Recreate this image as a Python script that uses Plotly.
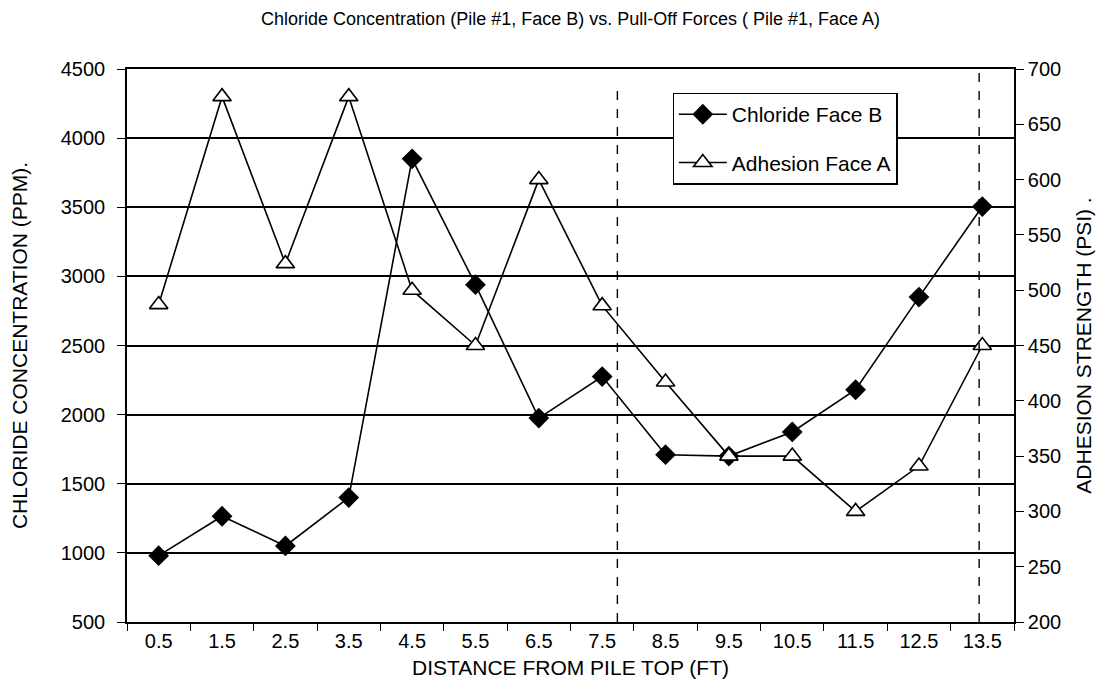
import plotly.graph_objects as go

# distance from pile top (ft), used as categories
distance = ["0.5", "1.5", "2.5", "3.5", "4.5", "5.5", "6.5",
            "7.5", "8.5", "9.5", "10.5", "11.5", "12.5", "13.5"]

# chloride concentration, Face B (ppm)
chloride_b = [980, 1265, 1050, 1400, 3850, 2940, 1975,
              2275, 1710, 1700, 1875, 2180, 2850, 3505]

# adhesion strength, Face A (psi)
adhesion_a = [487, 675, 524, 675, 500, 450, 600,
              486, 417, 350, 350, 300, 341, 450]

# dashed marker lines (category index positions)
marker_lines = [7.24, 12.95]

FONT = "Arial, Liberation Sans, sans-serif"

fig = go.Figure()

fig.add_trace(go.Scatter(
    x=distance, y=chloride_b, name="Chloride Face B",
    mode="lines+markers", legendgroup="a",
    line=dict(color="black", width=1.6),
    marker=dict(symbol="diamond", size=16, color="black"),
))

fig.add_trace(go.Scatter(
    x=distance, y=adhesion_a, name="Adhesion Face A",
    mode="lines+markers", yaxis="y2", legendgroup="b",
    line=dict(color="black", width=1.6),
    marker=dict(symbol="triangle-up", size=16, color="white",
                line=dict(color="black", width=1.6)),
))

for i, xv in enumerate(marker_lines):
    fig.add_shape(type="line", xref="x", yref="y domain",
                  x0=xv, x1=xv, y0=0, y1=0.966 if i == 0 else 1,
                  line=dict(color="black", width=1.4, dash="dash"))

fig.update_layout(
    width=1108, height=695,
    paper_bgcolor="white", plot_bgcolor="white",
    margin=dict(l=119, r=102, t=61, b=81),
    font=dict(family=FONT, size=20, color="black"),
    title=dict(text="Chloride Concentration (Pile #1, Face B) vs. Pull-Off Forces ( Pile #1, Face A)",
               x=0.5, xref="paper", y=1 - 4 / 695, yanchor="top",
               font=dict(size=18)),
    showlegend=True,
    legend=dict(x=0.615, y=0.957, xanchor="left", yanchor="top",
                bgcolor="white", bordercolor="black", borderwidth=1.3,
                font=dict(size=21), tracegroupgap=18, itemwidth=48),
    xaxis=dict(
        type="category", tickson="boundaries", automargin=False,
        ticks="outside", ticklen=7, tickcolor="black",
        showline=True, linecolor="black", linewidth=1.6, mirror=True,
        showgrid=False, range=[-0.5, 13.5],
        title=dict(text="DISTANCE FROM PILE TOP (FT)", font=dict(size=21), standoff=10),
    ),
    yaxis=dict(
        range=[500, 4500], dtick=500, automargin=False,
        ticks="outside", ticklen=8, tickcolor="black", ticklabelstandoff=8,
        showline=True, linecolor="black", linewidth=1.6,
        showgrid=True, gridcolor="black", gridwidth=1.5,
        zeroline=False,
        title=dict(text="CHLORIDE CONCENTRATION (PPM).", font=dict(size=21), standoff=30),
    ),
    yaxis2=dict(
        range=[200, 700], dtick=50, overlaying="y", side="right", automargin=False,
        ticks="outside", ticklen=8, tickcolor="black",
        showline=True, linecolor="black", linewidth=1.6,
        showgrid=False, zeroline=False,
        title=dict(text="ADHESION STRENGTH (PSI) .", font=dict(size=21), standoff=16),
    ),
)

fig.write_html("out.html")
